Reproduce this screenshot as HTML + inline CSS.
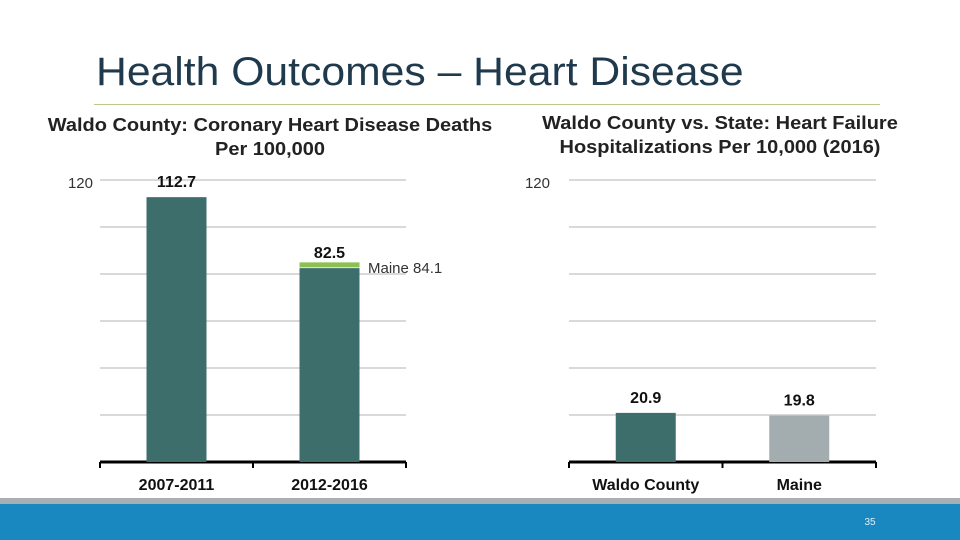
<!DOCTYPE html>
<html><head><meta charset="utf-8"><style>
body{margin:0;width:960px;height:540px;overflow:hidden;background:#fff;font-family:"Liberation Sans",sans-serif;position:relative}
.t{position:absolute;text-align:center}
</style></head><body>
<div class="t" style="left:96px;top:50px;font-size:40px;color:#1f3a4d;text-align:left;white-space:nowrap;transform:scaleX(1.067);transform-origin:left top">Health Outcomes – Heart Disease</div>
<div style="position:absolute;left:94px;top:104px;width:786px;height:1px;background:#b8c98a"></div>
<div class="t" style="left:30px;top:113px;width:480px;font-size:18px;font-weight:bold;color:#222;line-height:24px;transform:scaleX(1.11)">Waldo County: Coronary Heart Disease Deaths<br>Per 100,000</div>
<div class="t" style="left:500px;top:111px;width:440px;font-size:18px;font-weight:bold;color:#222;line-height:24px;transform:scaleX(1.11)">Waldo County vs. State: Heart Failure<br>Hospitalizations Per 10,000 (2016)</div>
<svg id="c" width="960" height="540" style="position:absolute;left:0;top:0"></svg>
<div style="position:absolute;left:0;top:498px;width:960px;height:6px;background:#a7afb2"></div>
<div style="position:absolute;left:0;top:504px;width:960px;height:36px;background:#1a88c0"></div>
<div class="t" style="left:855px;top:517px;width:30px;font-size:10px;color:#dfeef7">35</div>
<script>
const leftCats=["2007-2011","2012-2016"];
const leftVals=[112.7,82.5];
const leftLabels=["112.7","82.5"];
const maineRef=84.1;
const rightCats=["Waldo County","Maine"];
const rightVals=[20.9,19.8];
const rightLabels=["20.9","19.8"];
const yMax=120;
const svg=document.getElementById('c');
const NS='http://www.w3.org/2000/svg';
function mk(t,a,txt){const e=document.createElementNS(NS,t);for(const k in a)e.setAttribute(k,a[k]);if(txt!==undefined)e.textContent=txt;svg.appendChild(e);return e;}
const y0=462,y1=180;
function yS(v){return y0-(v/yMax)*(y0-y1);}
function chart(x0,x1,cats,vals,labels,colors,key){
  const bw=(x1-x0)/cats.length;
  for(let i=0;i<=6;i++){const g=mk('line',{x1:x0,x2:x1,y1:yS(i*20),y2:yS(i*20),stroke:'#d9d9d9','stroke-width':2});
    }
  const ax=mk('line',{x1:x0,x2:x1,y1:y0,y2:y0,stroke:'#000','stroke-width':3});
  
  for(let i=0;i<=cats.length;i++){const tk=mk('line',{x1:x0+i*bw,x2:x0+i*bw,y1:y0,y2:y0+6,stroke:'#000','stroke-width':2});
    }
  cats.forEach((c,i)=>{
    const cx=x0+bw*(i+0.5);
    const r=mk('rect',{x:cx-30,y:yS(vals[i]),width:60,height:y0-yS(vals[i]),fill:colors[i]});
    
    const l=mk('text',{x:cx,y:yS(vals[i])-10,'text-anchor':'middle','font-size':16,'font-weight':'bold',fill:'#111'},labels[i]);
    
    const cl=mk('text',{x:cx,y:490,'text-anchor':'middle','font-size':16,'font-weight':'bold',fill:'#111'},c);
    
  });
  return bw;
}
chart(100,406,leftCats,leftVals,leftLabels,['#3d6e6c','#3d6e6c'],'left');
chart(569,876,rightCats,rightVals,rightLabels,['#3d6e6c','#a3adb0'],'right');
let t=mk('text',{x:93,y:188,'text-anchor':'end','font-size':15,fill:'#333'},'120');

t=mk('text',{x:550,y:188,'text-anchor':'end','font-size':15,fill:'#333'},'120');

const bw=(406-100)/2, cx2=100+bw*1.5;
const ml=mk('rect',{x:cx2-30,y:yS(maineRef)-2,width:60,height:5,fill:'#8cc152'});

t=mk('text',{x:368,y:273,'font-size':15,fill:'#333'},'Maine 84.1');

</script>
</body></html>
